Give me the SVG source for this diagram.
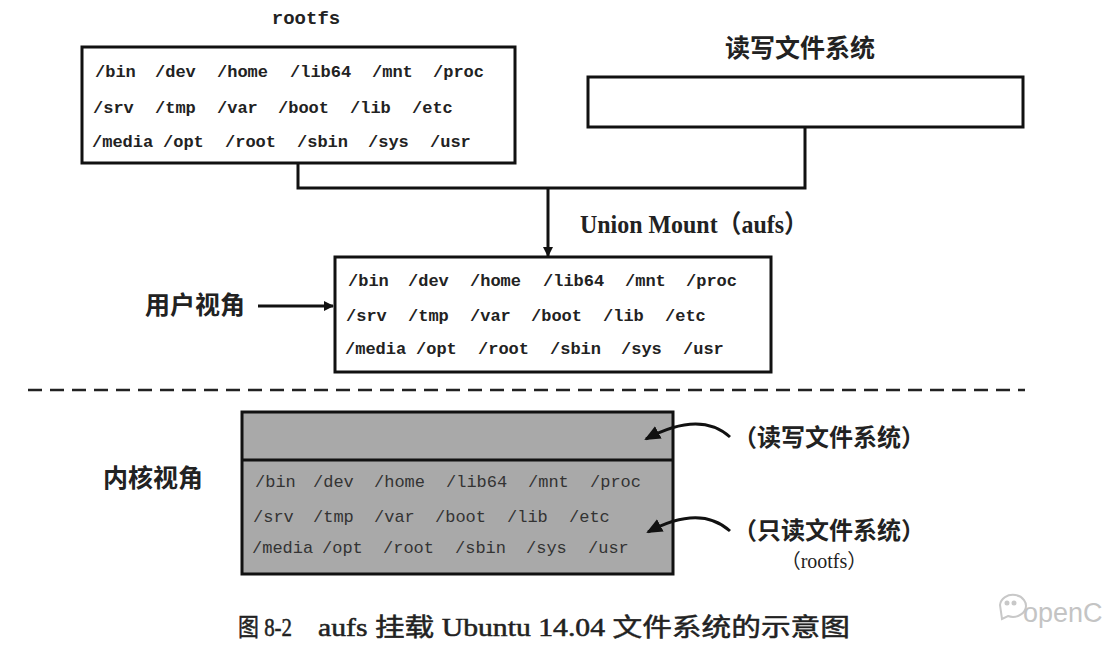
<svg xmlns="http://www.w3.org/2000/svg" width="1112" height="660" viewBox="0 0 1112 660">
<style>
.box{fill:#fff;stroke:#111;stroke-width:3}
.gbox{fill:#a9a9a9;stroke:#111;stroke-width:3}
.mono{font-family:"Liberation Mono","DejaVu Sans Mono",monospace;font-size:17px;font-weight:bold;fill:#222}
.gmono{font-family:"Liberation Mono","DejaVu Sans Mono",monospace;font-size:17px;fill:#333}
.cjk{font-family:"Noto Sans CJK SC",sans-serif;font-size:25px;font-weight:bold;fill:#222}
.serif{font-family:"Liberation Serif","Noto Sans CJK SC",serif;font-weight:bold;fill:#222}
.line{fill:none;stroke:#111;stroke-width:3}
</style>
<defs>
<marker id="ah" markerWidth="10" markerHeight="10" refX="9" refY="5" orient="auto" markerUnits="userSpaceOnUse" viewBox="0 0 10 10">
<path d="M0,0 L10,5 L0,10 z" fill="#111"/>
</marker>
<marker id="ah2" markerWidth="16" markerHeight="14" refX="14" refY="7" orient="auto" markerUnits="userSpaceOnUse" viewBox="0 0 16 14">
<path d="M0,0 L16,7 L0,14 z" fill="#111"/>
</marker>
</defs>

<g id="rootfs">
<text x="306" y="24" text-anchor="middle" class="mono" style="font-size:19px">rootfs</text>
<rect class="box" x="82" y="47" width="433" height="116"/>
<text class="mono"><tspan x="95" y="77">/bin</tspan><tspan x="155" y="77">/dev</tspan><tspan x="217" y="77">/home</tspan><tspan x="290" y="77">/lib64</tspan><tspan x="372" y="77">/mnt</tspan><tspan x="433" y="77">/proc</tspan></text>
<text class="mono"><tspan x="93" y="113">/srv</tspan><tspan x="155" y="113">/tmp</tspan><tspan x="217" y="113">/var</tspan><tspan x="278" y="113">/boot</tspan><tspan x="350" y="113">/lib</tspan><tspan x="412" y="113">/etc</tspan></text>
<text class="mono"><tspan x="92" y="147">/media</tspan><tspan x="163" y="147">/opt</tspan><tspan x="225" y="147">/root</tspan><tspan x="297" y="147">/sbin</tspan><tspan x="368" y="147">/sys</tspan><tspan x="430" y="147">/usr</tspan></text>
</g>

<g id="rwfs">
<text x="800" y="57" text-anchor="middle" class="cjk">读写文件系统</text>
<rect class="box" x="588" y="77" width="435" height="50"/>
</g>

<g id="union-label">
<text x="580" y="233" class="serif" style="font-size:25px" textLength="228" lengthAdjust="spacingAndGlyphs">Union Mount（aufs）</text>
</g>

<g id="userview">
<text x="145" y="314" class="cjk">用户视角</text>
<rect class="box" x="335" y="257" width="436" height="115"/>
<text class="mono"><tspan x="348" y="286">/bin</tspan><tspan x="408" y="286">/dev</tspan><tspan x="470" y="286">/home</tspan><tspan x="543" y="286">/lib64</tspan><tspan x="625" y="286">/mnt</tspan><tspan x="686" y="286">/proc</tspan></text>
<text class="mono"><tspan x="346" y="321">/srv</tspan><tspan x="408" y="321">/tmp</tspan><tspan x="470" y="321">/var</tspan><tspan x="531" y="321">/boot</tspan><tspan x="603" y="321">/lib</tspan><tspan x="665" y="321">/etc</tspan></text>
<text class="mono"><tspan x="345" y="354">/media</tspan><tspan x="416" y="354">/opt</tspan><tspan x="478" y="354">/root</tspan><tspan x="550" y="354">/sbin</tspan><tspan x="621" y="354">/sys</tspan><tspan x="683" y="354">/usr</tspan></text>
</g>

<g id="kernelview">
<text x="103" y="487" class="cjk">内核视角</text>
<rect class="gbox" x="242" y="412" width="431" height="162"/>
<path class="line" d="M242,460 H673"/>
<text class="gmono"><tspan x="255" y="487">/bin</tspan><tspan x="313" y="487">/dev</tspan><tspan x="374" y="487">/home</tspan><tspan x="446" y="487">/lib64</tspan><tspan x="528" y="487">/mnt</tspan><tspan x="590" y="487">/proc</tspan></text>
<text class="gmono"><tspan x="253" y="522">/srv</tspan><tspan x="313" y="522">/tmp</tspan><tspan x="374" y="522">/var</tspan><tspan x="435" y="522">/boot</tspan><tspan x="507" y="522">/lib</tspan><tspan x="569" y="522">/etc</tspan></text>
<text class="gmono"><tspan x="252" y="553">/media</tspan><tspan x="322" y="553">/opt</tspan><tspan x="383" y="553">/root</tspan><tspan x="455" y="553">/sbin</tspan><tspan x="526" y="553">/sys</tspan><tspan x="588" y="553">/usr</tspan></text>
</g>

<g id="rw-label">
<text x="829" y="446" text-anchor="middle" class="cjk" style="font-size:24px">（读写文件系统）</text>
</g>
<g id="ro-label">
<text x="829" y="539" text-anchor="middle" class="cjk" style="font-size:24px">（只读文件系统）</text>
<text x="824" y="568" text-anchor="middle" class="serif" style="font-size:20px;font-weight:normal">（rootfs）</text>
</g>

<g id="connectors">
<path class="line" d="M298,163 V188 H805 V127"/>
<path class="line" d="M548,188 V256" marker-end="url(#ah)"/>
<path class="line" d="M258,306 H333" marker-end="url(#ah)"/>
<path d="M28,390 H1025" fill="none" stroke="#222" stroke-width="2.5" stroke-dasharray="14 8"/>
<path class="line" d="M730,437 Q700,410 646,439" marker-end="url(#ah2)"/>
<path class="line" d="M730,531 Q700,504 648,532" marker-end="url(#ah2)"/>
</g>

<g id="caption">
<text class="serif" style="font-size:25px;font-weight:normal;stroke:#222;stroke-width:0.5"><tspan x="238" y="636" textLength="54" lengthAdjust="spacingAndGlyphs">图 8-2</tspan><tspan x="318" y="636" textLength="532" lengthAdjust="spacingAndGlyphs">aufs 挂载 Ubuntu 14.04 文件系统的示意图</tspan></text>
</g>

<g id="watermark" fill="none" stroke="#c8c8c8" stroke-width="2">
<path d="M1000,605 a13,11 0 1 1 8,11 l-6,3 z"/>
<circle cx="1007" cy="603" r="1.5" fill="#c8c8c8"/>
<circle cx="1014" cy="603" r="1.5" fill="#c8c8c8"/>
<text x="1023" y="622" stroke="none" fill="#c4c4c4" style="font-family:'Liberation Sans',sans-serif;font-size:27px">openC</text>
</g>
</svg>
